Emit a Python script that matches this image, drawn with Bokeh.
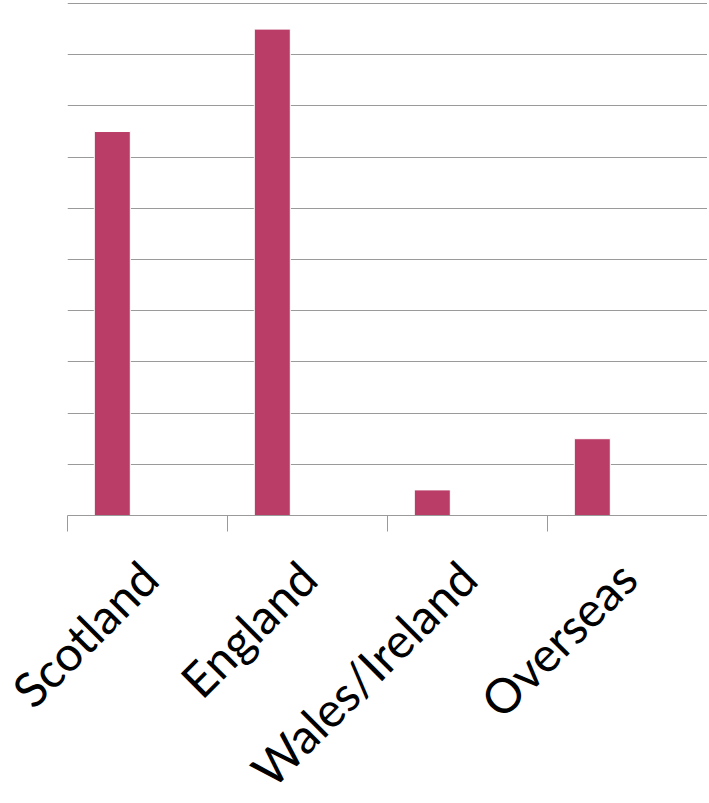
from math import pi
from bokeh.plotting import figure
from bokeh.models import (ColumnDataSource, Range1d, LinearAxis, FixedTicker,
                          SingleIntervalTicker, Grid)
from bokeh.embed import file_html
from bokeh.resources import INLINE

categories = ["Scotland", "England", "Wales/Ireland", "Overseas"]
values = [7.5, 9.5, 0.5, 1.5]

bar_offset = 0.28   # bar centre within its category slot (Excel-style cluster offset)
bar_width = 0.225

xs = [i + bar_offset for i in range(len(categories))]
src = ColumnDataSource(dict(x=xs, top=values, cat=categories))

p = figure(frame_width=640, frame_height=513, output_backend="svg", toolbar_location=None,
           x_range=Range1d(0, len(categories)), y_range=Range1d(0, 10.02),
           x_axis_location=None, y_axis_location=None,
           min_border_left=67, min_border_right=0, min_border_top=2,
           min_border_bottom=0)
p.outline_line_color = None
p.background_fill_color = "white"
p.border_fill_color = "white"
p.grid.visible = False

grid_color = "#9a9a9a"
p.add_layout(Grid(dimension=1, ticker=SingleIntervalTicker(interval=1),
                  grid_line_color=grid_color, grid_line_width=1))

p.vbar(x="x", top="top", bottom=0, width=bar_width, source=src,
       fill_color="#B93D67", line_color="white", line_width=1)

ticker = FixedTicker(ticks=[i + 0.5 for i in range(len(categories))],
                     minor_ticks=list(range(len(categories) + 1)))
ax = LinearAxis(ticker=ticker)
ax.major_label_overrides = {i + 0.5: c for i, c in enumerate(categories)}
ax.major_label_orientation = pi / 4
ax.major_label_text_font = "Lato"
ax.major_label_text_font_size = "48px"
ax.major_label_text_color = "black"
ax.major_label_standoff = 38
ax.major_tick_line_color = None
ax.minor_tick_in = 0
ax.minor_tick_out = 16
ax.minor_tick_line_color = grid_color
ax.axis_line_color = grid_color
p.add_layout(ax, "below")

open("out.html", "w").write(file_html(p, INLINE))
